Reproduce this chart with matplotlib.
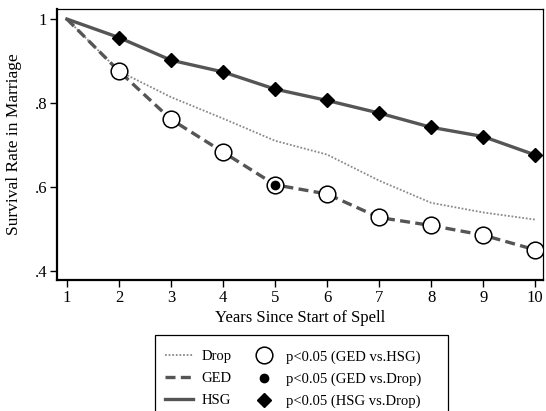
import matplotlib.pyplot as plt
from matplotlib.lines import Line2D
from matplotlib.patches import Rectangle

plt.rcParams['font.family'] = 'serif'
plt.rcParams['font.serif'] = ['Liberation Serif', 'DejaVu Serif']
plt.rcParams['font.size'] = 11

years = [1, 2, 3, 4, 5, 6, 7, 8, 9, 10]
drop = [1.0, 0.876, 0.814, 0.763, 0.710, 0.677, 0.615, 0.562, 0.539, 0.522]
ged = [1.0, 0.876, 0.761, 0.683, 0.605, 0.583, 0.527, 0.508, 0.485, 0.450]
hsg = [1.0, 0.956, 0.902, 0.874, 0.833, 0.806, 0.776, 0.742, 0.720, 0.676]

# significance flags
ged_vs_hsg = [False, True, True, True, True, True, True, True, True, True]
ged_vs_drop = [False, False, False, False, True, False, False, False, False, False]
hsg_vs_drop = [False, True, True, True, True, True, True, True, True, True]

yticks = [0.4, 0.6, 0.8, 1.0]
ylabels = ['.4', '.6', '.8', '1']

line_col = '#555555'
drop_col = '#8a8a8a'
W, H = 546, 411

fig = plt.figure(figsize=(5.46, 4.11), dpi=100)
ax = fig.add_axes([57 / W, 1 - 280 / H, (543 - 57) / W, (280 - 9) / H])

ax.plot(years, drop, color=drop_col, lw=1.3, ls=(0, (1, 1)), zorder=2)
ax.plot(years, ged, color=line_col, lw=2.4, ls=(0, (3, 1.6)), zorder=2)
ax.plot(years, hsg, color=line_col, lw=2.4, zorder=2)

gx = [x for x, f in zip(years, ged_vs_hsg) if f]
gy = [y for y, f in zip(ged, ged_vs_hsg) if f]
ax.plot(gx, gy, ls='none', marker='o', ms=12, mfc='white', mec='black', mew=1.1, zorder=3)
dx = [x for x, f in zip(years, ged_vs_drop) if f]
dy = [y for y, f in zip(ged, ged_vs_drop) if f]
ax.plot(dx, dy, ls='none', marker='o', ms=6, mfc='black', mec='black', zorder=4)
hx = [x for x, f in zip(years, hsg_vs_drop) if f]
hy = [y for y, f in zip(hsg, hsg_vs_drop) if f]
ax.plot(hx, hy, ls='none', marker='D', ms=7, mfc='black', mec='black', zorder=3)

ax.set_xlim(0.81, 10.15)
ax.set_ylim(0.378, 1.024)
ax.set_xticks(years)
ax.set_yticks(yticks)
ax.set_yticklabels(ylabels)
ax.tick_params(direction='out', length=5, width=1, colors='black', labelsize=12, pad=2)
for s in ['left', 'bottom']:
    ax.spines[s].set_linewidth(1.6)
for s in ['top', 'right']:
    ax.spines[s].set_linewidth(0.9)
ax.set_xlabel('Years Since Start of Spell', fontsize=12, labelpad=3)
ax.set_ylabel('Survival Rate in Marriage', fontsize=12.5, labelpad=9)

handles = [
    Line2D([], [], color=drop_col, lw=1.3, ls=(0, (1, 1))),
    Line2D([], [], color=line_col, lw=2.4, ls=(0, (3, 1.6))),
    Line2D([], [], color=line_col, lw=2.4),
    Line2D([], [], ls='none', marker='o', ms=12, mfc='white', mec='black', mew=1.1),
    Line2D([], [], ls='none', marker='o', ms=6, mfc='black', mec='black'),
    Line2D([], [], ls='none', marker='D', ms=7, mfc='black', mec='black'),
]
labels = ['Drop', 'GED', 'HSG', 'p<0.05 (GED vs.HSG)', 'p<0.05 (GED vs.Drop)',
          'p<0.05 (HSG vs.Drop)']
leg = fig.legend(handles, labels, ncol=2, loc='upper left',
                 bbox_to_anchor=(152 / W, 1 - 337 / H), fontsize=10.5,
                 frameon=False, handlelength=1.9, handletextpad=0.6,
                 columnspacing=1.25, labelspacing=0.6, borderpad=0.4)

# legend box (runs off the bottom edge like the original)
fig.patches.append(Rectangle((155 / W, -0.05), (448 - 155) / W, 0.05 + (H - 335) / H,
                             transform=fig.transFigure, fill=False,
                             edgecolor='black', lw=0.9))

fig.savefig('out.png', dpi=100)
